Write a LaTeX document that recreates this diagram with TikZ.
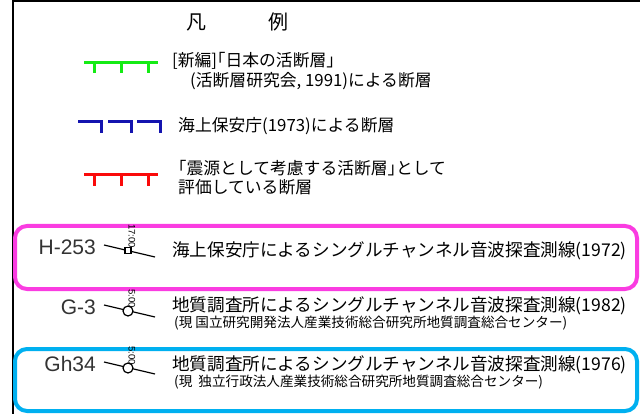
\documentclass[tikz,border=0pt]{standalone}
\usepackage{fontspec}
\newfontfamily\jp{Noto Sans CJK JP}
\newfontfamily\lat{Liberation Sans}
\definecolor{fgreen}{RGB}{20,235,20}
\definecolor{fblue}{RGB}{20,20,175}
\definecolor{fred}{RGB}{250,10,10}
\definecolor{bpink}{RGB}{250,60,225}
\definecolor{bcyan}{RGB}{0,176,240}
\begin{document}
\begin{tikzpicture}[x=1pt,y=-1pt,
  frame/.style={line width=2pt,black},
  fault/.style={line width=3pt},
  legtext/.style={font=\jp\fontsize{16.8}{18}\selectfont,anchor=west,inner sep=0pt},
  maintext/.style={font=\jp\fontsize{17.6}{20}\selectfont,anchor=west,inner sep=0pt},
  subtext/.style={font=\jp\fontsize{13.6}{14}\selectfont,anchor=west,inner sep=0pt},
  titletext/.style={font=\jp\fontsize{20}{22}\selectfont,inner sep=0pt},
  code/.style={font=\lat\fontsize{21}{22}\selectfont,anchor=east,inner sep=0pt,text=black!80},
  timelabel/.style={font=\lat\fontsize{9.5}{10}\selectfont,rotate=-90,anchor=west,inner sep=0pt},
  hbox/.style={line width=4pt,rounded corners=12pt},
  station/.style={line width=1.2pt},
  sqmark/.style={draw,fill=white,line width=1.2pt,minimum size=6pt,inner sep=0pt},
  cimark/.style={draw,fill=white,circle,line width=1.2pt,minimum size=10pt,inner sep=0pt}]
\useasboundingbox (0,0) rectangle (640,414);
\fill[white] (0,0) rectangle (640,414);
% frame
\draw[frame] (13,414) -- (13,1) -- (640,1);
% title
\node[titletext] (t1) at (196,22) {凡};
\node[titletext] (t2) at (278,22) {例};
% green fault
\draw[fault,fgreen] (84,63) -- (158,63);
\foreach \x in {94,121,148} \draw[fault,fgreen] (\x,63) -- (\x,73);
\node[legtext] (g1) at (172,61) {[新編]｢日本の活断層｣};
\node[legtext] (g2) at (190,81) {(活断層研究会, 1991)による断層};
% blue fault
\foreach \x in {78,108,137} \draw[fault,fblue,line cap=butt] (\x,122) -- (\x+23,122) -- (\x+23,133);
\node[legtext] (b1) at (178,126) {海上保安庁(1973)による断層};
% red fault
\draw[fault,fred] (84,175) -- (158,175);
\foreach \x in {94,121,148} \draw[fault,fred] (\x,175) -- (\x,186);
\node[legtext] (r1) at (178,168) {｢震源として考慮する活断層｣として};
\node[legtext] (r2) at (178,187) {評価している断層};
% highlight boxes
\draw[hbox,bpink] (15,226) rectangle (637,289);
\draw[hbox,bcyan] (15,349) rectangle (637,411);
% H-253
\node[code] (h) at (96,247) {H-253};
\coordinate (h1) at (104,245);
\coordinate (h2) at (155,257);
\draw[station] (h1) -- (h2);
\node[sqmark] (hs) at (128,250.5) {};
\node[timelabel] (ht) at (132,224) {17:00};
\node[maintext] (hm) at (172,251) {海上保安庁によるシングルチャンネル音波探査測線(1972)};
% G-3
\node[code] (g) at (96,307) {G-3};
\coordinate (gg1) at (104,305);
\coordinate (gg2) at (155,317);
\draw[station] (gg1) -- (gg2);
\node[cimark] (gc) at (128,311) {};
\node[timelabel] (gt) at (132,289) {5:00};
\node[maintext] (gm) at (172,306) {地質調査所によるシングルチャンネル音波探査測線(1982)};
\node[subtext] (gs) at (174,323) {(現\ 国立研究開発法人産業技術総合研究所地質調査総合センター)};
% Gh34
\node[code] (k) at (96,364) {Gh34};
\coordinate (k1) at (104,362);
\coordinate (k2) at (155,374);
\draw[station] (k1) -- (k2);
\node[cimark] (kc) at (128,368) {};
\node[timelabel] (kt) at (132,346) {5:00};
\node[maintext] (km) at (172,365) {地質調査所によるシングルチャンネル音波探査測線(1976)};
\node[subtext] (ks) at (174,382) {(現\ \ 独立行政法人産業技術総合研究所地質調査総合センター)};
\end{tikzpicture}
\end{document}
